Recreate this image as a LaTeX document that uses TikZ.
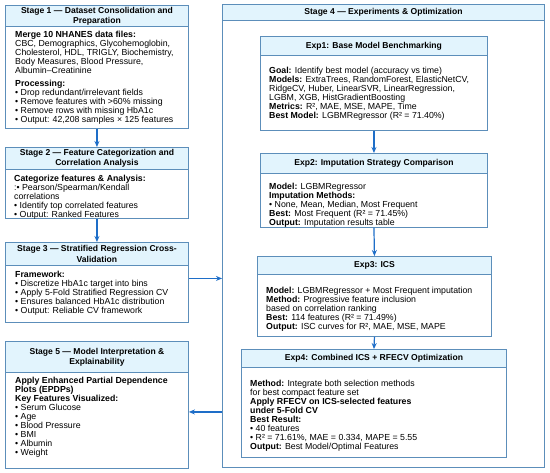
\documentclass[tikz,border=0pt]{standalone}
\usepackage{fontspec}
\setmainfont{Liberation Sans}
\usetikzlibrary{arrows.meta,positioning}

\definecolor{boxblue}{RGB}{92,142,186}
\definecolor{headblue}{RGB}{226,244,253}
\definecolor{flowblue}{RGB}{30,110,200}

\tikzset{
  stagebox/.style={draw=boxblue, line width=0.9bp, fill=white, anchor=north west, inner sep=0pt},
  stagehead/.style={draw=boxblue, line width=0.9bp, fill=headblue, anchor=north, inner sep=0pt,
    align=center, font=\fontsize{8.6}{10.2}\selectfont\bfseries},
  stagetext/.style={inner sep=0pt, align=left, font=\fontsize{8.8}{9}\selectfont},
  flowarrow/.style={draw=flowblue, line width=1.2bp, -{Stealth[length=6bp,width=5bp]}}
}

\begin{document}
\begin{tikzpicture}[x=1bp, y=1bp]
  \useasboundingbox (0,0) rectangle (550,-473);

  % ---------------- left column: stages 1, 2, 3, 5 ----------------
  % Stage 1
  \node[stagebox, minimum width=183bp, minimum height=123bp] (s1) at (5,-5) {};
  \node[stagehead, minimum width=183bp, minimum height=21bp] (s1h) at (s1.north)
    {Stage 1 — Dataset Consolidation and\\Preparation};
  \node[stagetext, below right=4bp and 10bp of s1h.south west] (s1t) {%
    \textbf{Merge 10 NHANES data files:}\\
    CBC, Demographics, Glycohemoglobin,\\
    Cholesterol, HDL, TRIGLY, Biochemistry,\\
    Body Measures, Blood Pressure,\\
    Albumin–Creatinine\\[4bp]
    \textbf{Processing:}\\
    • Drop redundant/irrelevant fields\\
    • Remove features with >60\% missing\\
    • Remove rows with missing HbA1c\\
    • Output: 42,208 samples × 125 features};

  % Stage 2
  \node[stagebox, minimum width=183bp, minimum height=71bp] (s2) at (5,-147) {};
  \node[stagehead, minimum width=183bp, minimum height=22bp] (s2h) at (s2.north)
    {Stage 2 — Feature Categorization and\\Correlation Analysis};
  \node[stagetext, below right=5bp and 9bp of s2h.south west] (s2t) {%
    \textbf{Categorize features \& Analysis:}\\
    :• Pearson/Spearman/Kendall\\
    correlations\\
    • Identify top correlated features\\
    • Output: Ranked Features};

  % Stage 3
  \node[stagebox, minimum width=183bp, minimum height=80bp] (s3) at (5,-242) {};
  \node[stagehead, minimum width=183bp, minimum height=23bp] (s3h) at (s3.north)
    {Stage 3 — Stratified Regression Cross-\\Validation};
  \node[stagetext, below right=5bp and 10bp of s3h.south west] (s3t) {%
    \textbf{Framework:}\\
    • Discretize HbA1c target into bins\\
    • Apply 5-Fold Stratified Regression CV\\
    • Ensures balanced HbA1c distribution\\
    • Output: Reliable CV framework};

  % Stage 5
  \node[stagebox, minimum width=183bp, minimum height=127bp] (s5) at (5,-341) {};
  \node[stagehead, minimum width=183bp, minimum height=31bp] (s5h) at (s5.north)
    {Stage 5 — Model Interpretation \&\\Explainability};
  \node[stagetext, below right=4bp and 10bp of s5h.south west] (s5t) {%
    \textbf{Apply Enhanced Partial Dependence}\\
    \textbf{Plots (EPDPs)}\\
    \textbf{Key Features Visualized:}\\
    • Serum Glucose\\
    • Age\\
    • Blood Pressure\\
    • BMI\\
    • Albumin\\
    • Weight};

  % ---------------- right column: stage 4 with experiments ----------------
  \node[stagebox, minimum width=322bp, minimum height=463bp] (s4) at (222,-4) {};
  \node[stagehead, minimum width=322bp, minimum height=16bp] (s4h) at (s4.north)
    {Stage 4 — Experiments \& Optimization};

  % Exp1
  \node[stagebox, minimum width=227bp, minimum height=94bp] (e1) at (260,-36) {};
  \node[stagehead, minimum width=227bp, minimum height=19bp] (e1h) at (e1.north)
    {Exp1: Base Model Benchmarking};
  \node[stagetext, below right=11bp and 9bp of e1h.south west] (e1t) {%
    \textbf{Goal:} Identify best model (accuracy vs time)\\
    \textbf{Models:} ExtraTrees, RandomForest, ElasticNetCV,\\
    RidgeCV, Huber, LinearSVR, LinearRegression,\\
    LGBM, XGB, HistGradientBoosting\\
    \textbf{Metrics:} R², MAE, MSE, MAPE, Time\\
    \textbf{Best Model:} LGBMRegressor (R² = 71.40\%)};

  % Exp2
  \node[stagebox, minimum width=227bp, minimum height=74bp] (e2) at (260,-153) {};
  \node[stagehead, minimum width=227bp, minimum height=20bp] (e2h) at (e2.north)
    {Exp2: Imputation Strategy Comparison};
  \node[stagetext, below right=9bp and 9bp of e2h.south west] (e2t) {%
    \textbf{Model:} LGBMRegressor\\
    \textbf{Imputation Methods:}\\
    • None, Mean, Median, Most Frequent\\
    \textbf{Best:} Most Frequent (R² = 71.45\%)\\
    \textbf{Output:} Imputation results table};

  % Exp3
  \node[stagebox, minimum width=234bp, minimum height=80bp] (e3) at (257,-256) {};
  \node[stagehead, minimum width=234bp, minimum height=18bp] (e3h) at (e3.north)
    {Exp3: ICS};
  \node[stagetext, below right=12bp and 9bp of e3h.south west] (e3t) {%
    \textbf{Model:} LGBMRegressor + Most Frequent imputation\\
    \textbf{Method:} Progressive feature inclusion\\
    based on correlation ranking\\
    \textbf{Best:} 114 features (R² = 71.49\%)\\
    \textbf{Output:} ISC curves for R², MAE, MSE, MAPE};

  % Exp4
  \node[stagebox, minimum width=265bp, minimum height=108bp] (e4) at (241,-349) {};
  \node[stagehead, minimum width=265bp, minimum height=18bp] (e4h) at (e4.north)
    {Exp4: Combined ICS + RFECV Optimization};
  \node[stagetext, below right=12bp and 9bp of e4h.south west] (e4t) {%
    \textbf{Method:} Integrate both selection methods\\
    for best compact feature set\\
    \textbf{Apply RFECV on ICS-selected features}\\
    \textbf{under 5-Fold CV}\\
    \textbf{Best Result:}\\
    • 40 features\\
    • R² = 71.61\%, MAE = 0.334, MAPE = 5.55\\
    \textbf{Output:} Best Model/Optimal Features};

  % ---------------- arrows ----------------
  \draw[flowarrow] (s1.south) -- (s2.north);
  \draw[flowarrow] (s2.south) -- (s3.north);
  \draw[flowarrow] (e1.south) -- (e2.north);
  \draw[flowarrow] (e2.south) -- (e3.north);
  \draw[flowarrow] (e3.south) -- (e4.north);

  % stage 3 -> stage 4, stage 4 -> stage 5
  \coordinate (s3out) at ([yshift=4bp]s3.east);
  \coordinate (s5in) at ([yshift=-7bp]s5.east);
  \draw[flowarrow] (s3out) -- (s4.west |- s3out);
  \draw[flowarrow] (s4.west |- s5in) -- (s5in);
\end{tikzpicture}
\end{document}
